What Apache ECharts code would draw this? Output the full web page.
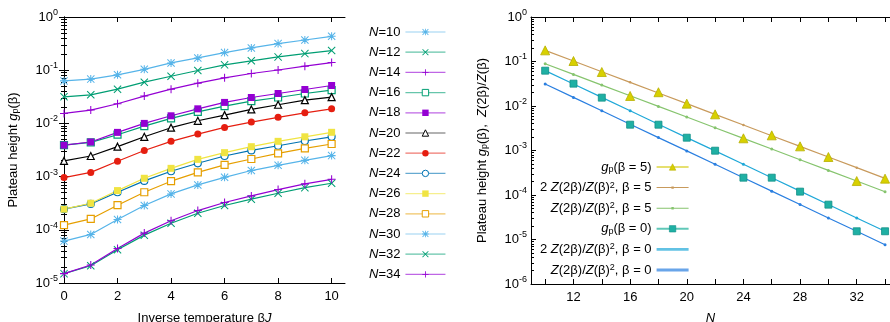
<!DOCTYPE html>
<html>
<head>
<meta charset="utf-8">
<script src="https://cdn.jsdelivr.net/npm/echarts@6/dist/echarts.min.js"></script>
<style>
html, body { margin: 0; background: #fff; }
#chart { width: 890px; height: 322px; }
</style>
</head>
<body>
<div id="chart"></div>
<script>
// left panel: plateau height vs inverse temperature
var betas = [0, 1, 2, 3, 4, 5, 6, 7, 8, 9, 10];
var gN10 = [0.063, 0.068, 0.0818, 0.104, 0.137, 0.170, 0.214, 0.262, 0.316, 0.37, 0.434];
var gN12 = [0.0316, 0.0345, 0.044, 0.0596, 0.077, 0.0986, 0.126, 0.150, 0.178, 0.205, 0.234];
var gN14 = [0.0154, 0.0178, 0.0234, 0.0326, 0.044, 0.057, 0.0718, 0.0866, 0.101, 0.119, 0.139];
var gN16 = [0.0039, 0.0044, 0.00613, 0.0089, 0.0124, 0.0165, 0.0211, 0.0262, 0.0307, 0.0365, 0.0422];
var gN18 = [0.0039, 0.00447, 0.00678, 0.0100, 0.0139, 0.0188, 0.0248, 0.0307, 0.0365, 0.0434, 0.0516];
var gN20 = [0.00197, 0.00244, 0.00365, 0.0056, 0.0083, 0.0112, 0.0143, 0.0183, 0.0224, 0.0274, 0.0312];
var gN22 = [0.00096, 0.0012, 0.00194, 0.0031, 0.0046, 0.0063, 0.0084, 0.0106, 0.013, 0.0158, 0.0188];
var gN24 = [0.000244, 0.000307, 0.000508, 0.00083, 0.00126, 0.00178, 0.00244, 0.0031, 0.0038, 0.00467, 0.0056];
var gN26 = [0.000244, 0.000316, 0.000546, 0.00093, 0.00143, 0.00211, 0.00282, 0.00365, 0.0046, 0.0056, 0.0068];
var gN28 = [0.000122, 0.00016, 0.00029, 0.000508, 0.00082, 0.0012, 0.00166, 0.00214, 0.00274, 0.0034, 0.0041];
var gN30 = [0.0000613, 0.0000818, 0.000156, 0.000286, 0.000473, 0.000698, 0.00097, 0.0013, 0.00163, 0.00202, 0.00248];
var gN32 = [0.000015, 0.0000211, 0.0000422, 0.0000794, 0.000133, 0.000205, 0.000286, 0.000376, 0.000487, 0.00062, 0.00075];
var gN34 = [0.000015, 0.0000218, 0.0000447, 0.0000866, 0.000148, 0.00023, 0.000326, 0.000434, 0.00057, 0.00073, 0.00089];

// right panel: plateau height vs system size
var sizes = [10, 12, 14, 16, 18, 20, 22, 24, 26, 28, 30, 32, 34];
var gpBeta5 = [0.178, 0.1026, 0.058, 0.0168, 0.0204, 0.0113, 0.0065, 0.00188, 0.00219, 0.00124, 0.000714, 0.000206, 0.000233];
var ratio2Beta5 = [0.178, 0.1026, 0.059, 0.034, 0.0196, 0.0113, 0.0065, 0.00374, 0.00215, 0.00124, 0.000714, 0.000411, 0.000237];
var ratioBeta5 = [0.089, 0.0513, 0.0295, 0.017, 0.0098, 0.00565, 0.00325, 0.00187, 0.00108, 0.00062, 0.000357, 0.000206, 0.000118];
var gpBeta0 = [0.0622, 0.0318, 0.0154, 0.0038, 0.0038, 0.00194, 0.00099, 0.000245, 0.000245, 0.000119, 0.0000607, 0.0000153, 0.0000153];
var ratio2Beta0 = [0.0625, 0.0313, 0.0156, 0.0078, 0.0039, 0.00195, 0.00098, 0.00049, 0.000244, 0.000122, 0.000061, 0.0000305, 0.0000153];
var ratioBeta0 = [0.0313, 0.0156, 0.0078, 0.0039, 0.00195, 0.00098, 0.00049, 0.000244, 0.000122, 0.000061, 0.0000305, 0.0000153, 0.0000076];

var xTicksLeft = [0, 2, 4, 6, 8, 10];
var xLabelsRight = [12, 16, 20, 24, 28, 32];
var xTicksRight = [10, 12, 14, 16, 18, 20, 22, 24, 26, 28, 30, 32, 34];

var FONT = 'Liberation Sans';

// gnuplot-like point shapes
var PLUS = 'M8.7,0H11.3V8.7H20V11.3H11.3V20H8.7V11.3H0V8.7H8.7Z';
var CROSS = 'M1.8,0L10,8.2L18.2,0L20,1.8L11.8,10L20,18.2L18.2,20L10,11.8L1.8,20L0,18.2L8.2,10L0,1.8Z';
var sym = {
	plus: 'path://' + PLUS,
	cross: 'path://' + CROSS,
	star: 'path://' + PLUS + CROSS
};

// legend samples for the model curves: line with a small dot (corner specks fix the box)
var CORNERS = 'M0,0H0.01V0.01H0Z M31.99,7.99H32V8H31.99Z ';
var thinIcon = 'path://' + CORNERS + 'M0,3.5H32V4.5H0Z M14.8,2.8H17.2V5.2H14.8Z';
var thickIcon = 'path://' + CORNERS + 'M0,2.6H32V5.4H0Z';

function pairs(xs, ys) {
	return xs.map(function(x, i) { return [x, ys[i]]; });
}

function leftSeries(name, data, color, symbol, size, open) {
	return {
		name: name,
		type: 'line',
		xAxisIndex: 0,
		yAxisIndex: 0,
		data: pairs(betas, data),
		symbol: symbol,
		symbolSize: size,
		showAllSymbol: true,
		lineStyle: { color: color, width: 1.2 },
		itemStyle: open ?
			{ color: '#fff', borderColor: color, borderWidth: 1.2 } :
			{ color: color, borderWidth: 0 },
		emphasis: { disabled: true }
	};
}

function expLabel(v) {
	var e = Math.round(Math.log(v) / Math.LN10);
	return '{b|10}{s|' + e + '}';
}

var labelRich = {
	b: { fontFamily: FONT, fontSize: 13, lineHeight: 18, color: '#000' },
	s: { fontFamily: FONT, fontSize: 9, lineHeight: 9, verticalAlign: 'top', color: '#000' }
};

var nameRich = {
	n: { fontFamily: FONT, fontSize: 13, color: '#000' },
	i: { fontFamily: FONT, fontSize: 13, fontStyle: 'italic', color: '#000' },
	sub: { fontFamily: FONT, fontSize: 9, verticalAlign: 'bottom', lineHeight: 9, color: '#000' },
	sup: { fontFamily: FONT, fontSize: 9, verticalAlign: 'top', lineHeight: 9, color: '#000' }
};

var axisLineStyle = { show: true, lineStyle: { color: '#000', width: 1 } };

function logAxis(grid, min, pos, labels, margin) {
	return {
		type: 'log',
		logBase: 10,
		gridIndex: grid,
		position: pos,
		min: min,
		max: 1,
		axisLine: axisLineStyle,
		axisTick: { show: true, inside: true, length: 5, lineStyle: { color: '#000' } },
		minorTick: { show: true, splitNumber: 9, length: 3, lineStyle: { color: '#000' } },
		splitLine: { show: false },
		minorSplitLine: { show: false },
		axisLabel: {
			show: labels,
			margin: margin,
			formatter: expLabel,
			rich: labelRich
		}
	};
}

var rightNames = {
	gp5: '{i|g}{sub|p}{n|(β = 5)}',
	r2b5: '{n|2 }{i|Z}{n|(2β)/}{i|Z}{n|(β)}{sup|2}{n|, β = 5}',
	rb5: '{i|Z}{n|(2β)/}{i|Z}{n|(β)}{sup|2}{n|, β = 5}',
	gp0: '{i|g}{sub|p}{n|(β = 0)}',
	r2b0: '{n|2 }{i|Z}{n|(2β)/}{i|Z}{n|(β)}{sup|2}{n|, β = 0}',
	rb0: '{i|Z}{n|(2β)/}{i|Z}{n|(β)}{sup|2}{n|, β = 0}'
};

var chart = echarts.init(document.getElementById('chart'), null, { renderer: 'canvas' });

chart.setOption({
	backgroundColor: '#fff',
	animation: false,
	textStyle: { fontFamily: FONT },
	grid: [
		{ left: 64, right: 545, top: 17, bottom: 39, outerBoundsMode: 'none', containLabel: false },
		{ left: 531, right: 0, top: 17, bottom: 38, outerBoundsMode: 'none', containLabel: false }
	],
	legend: [
		{
			orient: 'vertical',
			left: 369,
			top: 25,
			padding: 0,
			align: 'right',
			itemWidth: 40,
			itemHeight: 8,
			itemGap: 6.2,
			lineStyle: { width: 1.2, opacity: 0.6 },
			itemStyle: { borderWidth: 1 },
			data: ['N=10', 'N=12', 'N=14', 'N=16', 'N=18', 'N=20', 'N=22', 'N=24', 'N=26', 'N=28', 'N=30', 'N=32', 'N=34'],
			formatter: function(name) {
				return '{i|N}{n|' + name.slice(1) + '}';
			},
			textStyle: { lineHeight: 14, rich: nameRich }
		},
		{
			orient: 'vertical',
			left: 540,
			top: 160,
			padding: 0,
			align: 'right',
			itemWidth: 32,
			itemHeight: 8,
			itemGap: 6.6,
			itemStyle: { borderWidth: 0.6 },
			data: [
				{ name: 'gp5', lineStyle: { opacity: 1, width: 2, color: '#e6e070' } },
				{ name: 'r2b5', icon: thinIcon, itemStyle: { borderWidth: 0 } },
				{ name: 'rb5', icon: thinIcon, itemStyle: { borderWidth: 0 } },
				{ name: 'gp0', lineStyle: { opacity: 1, width: 2, color: '#60c8b8' } },
				{ name: 'r2b0', icon: thickIcon, itemStyle: { borderWidth: 0, opacity: 0.7 } },
				{ name: 'rb0', icon: thickIcon, itemStyle: { borderWidth: 0, opacity: 0.7 } }
			],
			formatter: function(name) {
				return rightNames[name];
			},
			textStyle: { lineHeight: 14, rich: nameRich }
		}
	],
	xAxis: [
		{
			type: 'value',
			gridIndex: 0,
			position: 'bottom',
			min: 0,
			max: 10.5,
			name: '{n|Inverse temperature β}{i|J}',
			nameLocation: 'middle',
			nameGap: 29,
			nameTextStyle: { rich: nameRich },
			axisLine: axisLineStyle,
			axisTick: { show: true, inside: true, length: 5, customValues: xTicksLeft, lineStyle: { color: '#000' } },
			splitLine: { show: false },
			axisLabel: { customValues: xTicksLeft, margin: 7, color: '#000', fontSize: 13, fontFamily: FONT }
		},
		{
			type: 'value',
			gridIndex: 0,
			position: 'top',
			min: 0,
			max: 10.5,
			axisLine: axisLineStyle,
			axisTick: { show: true, inside: true, length: 5, customValues: xTicksLeft, lineStyle: { color: '#000' } },
			splitLine: { show: false },
			axisLabel: { show: false }
		},
		{
			type: 'value',
			gridIndex: 1,
			position: 'bottom',
			min: 9,
			max: 34.35,
			name: '{i|N}',
			nameLocation: 'middle',
			nameGap: 28,
			nameTextStyle: { rich: nameRich },
			axisLine: axisLineStyle,
			axisTick: { show: true, inside: true, length: 5, customValues: xTicksRight, lineStyle: { color: '#000' } },
			splitLine: { show: false },
			axisLabel: { customValues: xLabelsRight, margin: 7, color: '#000', fontSize: 13, fontFamily: FONT }
		},
		{
			type: 'value',
			gridIndex: 1,
			position: 'top',
			min: 9,
			max: 34.35,
			axisLine: axisLineStyle,
			axisTick: { show: true, inside: true, length: 5, customValues: xTicksRight, lineStyle: { color: '#000' } },
			splitLine: { show: false },
			axisLabel: { show: false }
		}
	],
	yAxis: [
		Object.assign(logAxis(0, 1e-5, 'left', true, 6), {
			name: '{n|Plateau height }{i|g}{sub|p}{n|(β)}',
			nameLocation: 'middle',
			nameGap: 44,
			nameTextStyle: { rich: nameRich }
		}),
		logAxis(0, 1e-5, 'right', false, 6),
		Object.assign(logAxis(1, 1e-6, 'left', true, 4), {
			name: '{n|Plateau height }{i|g}{sub|p}{n|(β),  }{i|Z}{n|(2β)/}{i|Z}{n|(β)}',
			nameLocation: 'middle',
			nameGap: 42,
			nameTextStyle: { rich: nameRich }
		})
	],
	series: [
		leftSeries('N=10', gN10, '#56b4e9', sym.star, 8, false),
		leftSeries('N=12', gN12, '#009e73', sym.cross, 8, false),
		leftSeries('N=14', gN14, '#9400d3', sym.plus, 8, false),
		leftSeries('N=16', gN16, '#009e73', 'rect', 7, true),
		leftSeries('N=18', gN18, '#9400d3', 'rect', 7, false),
		leftSeries('N=20', gN20, '#000000', 'triangle', 7, true),
		leftSeries('N=22', gN22, '#e51e10', 'circle', 7, false),
		leftSeries('N=24', gN24, '#0072b2', 'circle', 7, true),
		leftSeries('N=26', gN26, '#f0e442', 'rect', 7, false),
		leftSeries('N=28', gN28, '#e69f00', 'rect', 7, true),
		leftSeries('N=30', gN30, '#56b4e9', sym.star, 8, false),
		leftSeries('N=32', gN32, '#009e73', sym.cross, 8, false),
		leftSeries('N=34', gN34, '#9400d3', sym.plus, 8, false),
		{
			name: 'r2b5', type: 'line', xAxisIndex: 2, yAxisIndex: 2,
			data: pairs(sizes, ratio2Beta5),
			symbol: 'circle', symbolSize: 2.5,
			lineStyle: { color: '#c89a5c', width: 1.2 },
			itemStyle: { color: '#c89a5c' }
		},
		{
			name: 'rb5', type: 'line', xAxisIndex: 2, yAxisIndex: 2,
			data: pairs(sizes, ratioBeta5),
			symbol: 'circle', symbolSize: 3,
			lineStyle: { color: '#86c46e', width: 1.2 },
			itemStyle: { color: '#86c46e' }
		},
		{
			name: 'r2b0', type: 'line', xAxisIndex: 2, yAxisIndex: 2,
			data: pairs(sizes, ratio2Beta0),
			symbol: 'circle', symbolSize: 3,
			lineStyle: { color: '#1fa8d8', width: 1.2 },
			itemStyle: { color: '#1fa8d8' }
		},
		{
			name: 'rb0', type: 'line', xAxisIndex: 2, yAxisIndex: 2,
			data: pairs(sizes, ratioBeta0),
			symbol: 'circle', symbolSize: 3,
			lineStyle: { color: '#2a7fe0', width: 1.2 },
			itemStyle: { color: '#2a7fe0' }
		},
		{
			name: 'gp5', type: 'line', xAxisIndex: 2, yAxisIndex: 2,
			data: pairs(sizes, gpBeta5),
			symbol: 'triangle', symbolSize: 9,
			lineStyle: { opacity: 0 },
			itemStyle: { color: '#d8d000', borderColor: '#b8b000', borderWidth: 0.8 }
		},
		{
			name: 'gp0', type: 'line', xAxisIndex: 2, yAxisIndex: 2,
			data: pairs(sizes, gpBeta0),
			symbol: 'rect', symbolSize: 7,
			lineStyle: { opacity: 0 },
			itemStyle: { color: '#1fb0a4', borderColor: '#129088', borderWidth: 0.8 }
		}
	]
});
</script>
</body>
</html>
